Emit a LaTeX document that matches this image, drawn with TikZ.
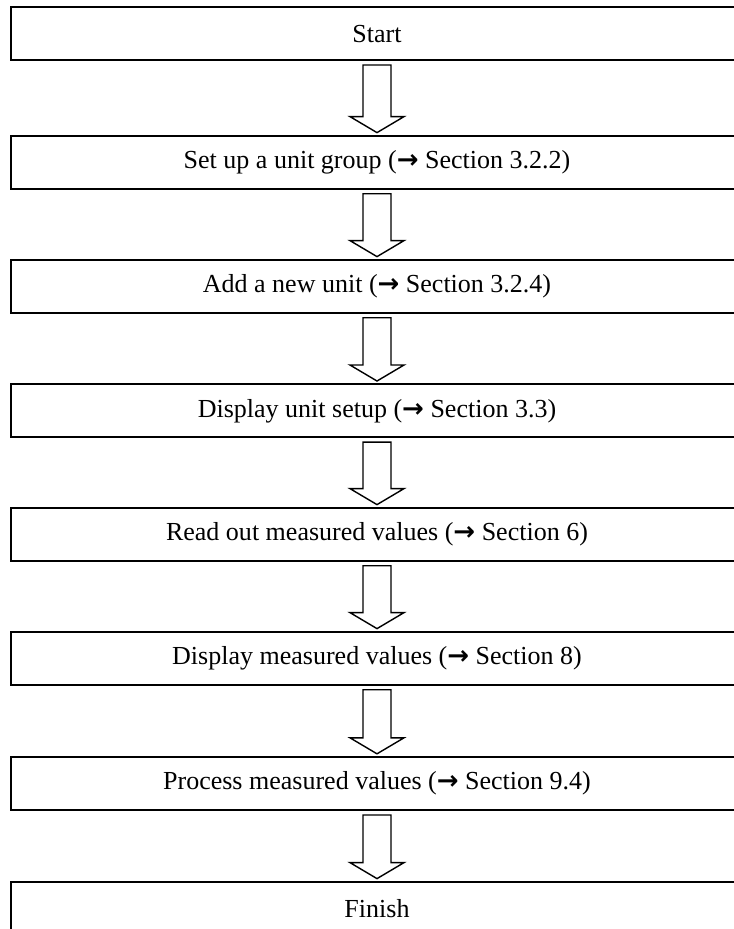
\documentclass[tikz,border=0pt]{standalone}
\usepackage{fontspec}
\setmainfont{Liberation Serif}
\newfontfamily\arrowfont{DejaVu Sans}
\usepackage{tikz}
\usetikzlibrary{calc}

\newcommand{\sect}{{\arrowfont\bfseries →}}

\tikzset{
    stepbox/.style={draw, line width=1.4pt, minimum width=18.3cm, minimum height=1.32cm,
        inner sep=0pt, font=\fontsize{18.5pt}{20pt}\selectfont},
    flowarrow/.style={line width=1pt, fill=white, line join=miter}
}

% block arrow from the bottom of #1 to the top of #2
\newcommand{\flowdown}[2]{%
    \draw [flowarrow] let
    \p1 = ($ (#1.south)+(0,-0.1) $),
    \p2 = ($ (#2.north)+(0,0.06) $)
    in (\x1-0.35cm,\y1) -- (\x1+0.35cm,\y1) -- (\x1+0.35cm,\y2+0.4cm)
    -- (\x1+0.675cm,\y2+0.4cm) -- (\x1,\y2) -- (\x1-0.675cm,\y2+0.4cm)
    -- (\x1-0.35cm,\y2+0.4cm) -- cycle;
}

\begin{document}
\begin{tikzpicture}
    \useasboundingbox (0,0) rectangle (18.35,-23.225);

    \node [stepbox] (start)   at (9.425,-0.84)  {Start};
    \node [stepbox] (group)   at (9.425,-4.06)  {Set up a unit group (\sect\ Section 3.2.2)};
    \node [stepbox] (unit)    at (9.425,-7.16)  {Add a new unit (\sect\ Section 3.2.4)};
    \node [stepbox] (setup)   at (9.425,-10.27) {Display unit setup (\sect\ Section 3.3)};
    \node [stepbox] (readout) at (9.425,-13.36) {Read out measured values (\sect\ Section 6)};
    \node [stepbox] (display) at (9.425,-16.46) {Display measured values (\sect\ Section 8)};
    \node [stepbox] (process) at (9.425,-19.59) {Process measured values (\sect\ Section 9.4)};
    \node [stepbox] (finish)  at (9.425,-22.71) {Finish};

    \flowdown{start}{group}
    \flowdown{group}{unit}
    \flowdown{unit}{setup}
    \flowdown{setup}{readout}
    \flowdown{readout}{display}
    \flowdown{display}{process}
    \flowdown{process}{finish}
\end{tikzpicture}
\end{document}
